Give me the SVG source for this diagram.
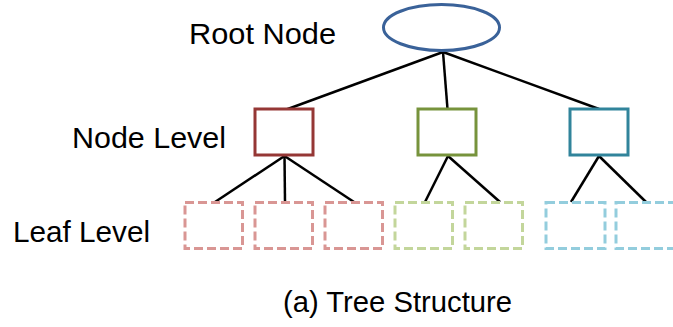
<svg xmlns="http://www.w3.org/2000/svg" width="673" height="327" viewBox="0 0 673 327">
  <style>
    .label { font-family: "Liberation Sans", Arial, sans-serif; font-size: 29px; fill: #000; }
    .edge { stroke: #000; stroke-width: 2.5; fill: none; }
    .node { fill: #fff; stroke-width: 3; }
    .leaf { fill: #fff; stroke-width: 3; stroke-dasharray: 9 4; }
  </style>
  <rect width="673" height="327" fill="#fff"/>

  <!-- connectors -->
  <g id="connectors">
    <line class="edge" x1="443" y1="52" x2="285" y2="110"/>
    <line class="edge" x1="443" y1="52" x2="447.5" y2="109"/>
    <line class="edge" x1="443" y1="52" x2="599" y2="109"/>
    <line class="edge" x1="284.5" y1="156" x2="215" y2="202"/>
    <line class="edge" x1="284.5" y1="156" x2="285" y2="202"/>
    <line class="edge" x1="284.5" y1="156" x2="354" y2="202"/>
    <line class="edge" x1="448" y1="156" x2="425" y2="202"/>
    <line class="edge" x1="448" y1="156" x2="500" y2="202"/>
    <line class="edge" x1="599" y1="156" x2="571" y2="202"/>
    <line class="edge" x1="599" y1="156" x2="646" y2="202"/>
  </g>

  <!-- root -->
  <g id="root">
    <ellipse cx="441.5" cy="27.5" rx="58" ry="23" fill="#fff" stroke="#3A6299" stroke-width="3"/>
  </g>

  <!-- internal nodes -->
  <g id="node-red"><rect class="node" x="255" y="109" width="58" height="46" stroke="#953735"/></g>
  <g id="node-green"><rect class="node" x="418" y="109" width="58" height="46" stroke="#77933C"/></g>
  <g id="node-teal"><rect class="node" x="570" y="109" width="58" height="46" stroke="#31849B"/></g>

  <!-- leaves -->
  <g id="leaf-1"><rect class="leaf" x="185" y="202.5" width="57.5" height="46" stroke="#D99694"/></g>
  <g id="leaf-2"><rect class="leaf" x="255" y="202.5" width="57.5" height="46" stroke="#D99694"/></g>
  <g id="leaf-3"><rect class="leaf" x="325" y="202.5" width="57.5" height="46" stroke="#D99694"/></g>
  <g id="leaf-4"><rect class="leaf" x="395" y="202.5" width="57.5" height="46" stroke="#C3D69B"/></g>
  <g id="leaf-5"><rect class="leaf" x="465" y="202.5" width="57.5" height="46" stroke="#C3D69B"/></g>
  <g id="leaf-6"><rect class="leaf" x="546" y="202.5" width="59" height="46" stroke="#93CDDD"/></g>
  <g id="leaf-7"><rect class="leaf" x="616" y="202.5" width="59" height="46" stroke="#93CDDD"/></g>

  <!-- labels -->
  <g id="labels">
    <text class="label" x="189" y="44" textLength="147" lengthAdjust="spacingAndGlyphs">Root Node</text>
    <text class="label" x="72" y="148" textLength="154" lengthAdjust="spacingAndGlyphs">Node Level</text>
    <text class="label" x="13" y="241.5" textLength="137" lengthAdjust="spacingAndGlyphs">Leaf Level</text>
    <text class="label" x="283" y="311.5" textLength="229" lengthAdjust="spacingAndGlyphs">(a) Tree Structure</text>
  </g>
</svg>
